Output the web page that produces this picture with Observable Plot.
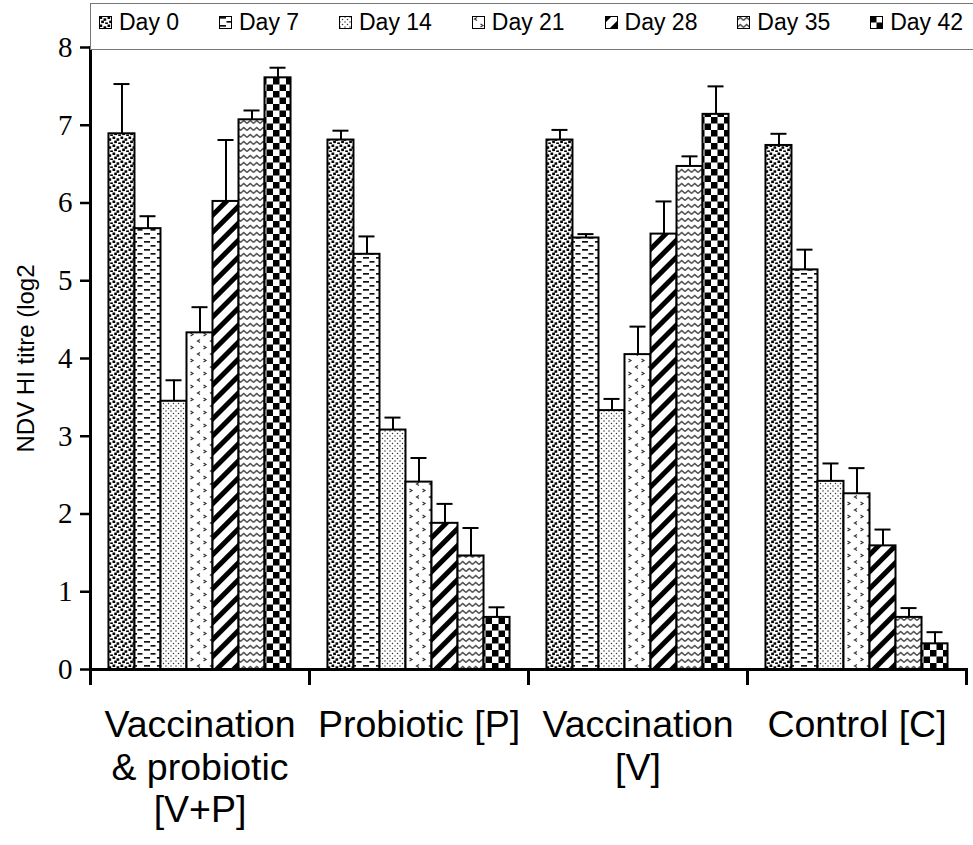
<!DOCTYPE html>
<html><head><meta charset="utf-8">
<script src="https://cdn.jsdelivr.net/npm/d3@7"></script>
<script src="https://cdn.jsdelivr.net/npm/@observablehq/plot@0.6"></script>
<style>
body{margin:0;background:#fff;overflow:hidden;}
#wrap{position:relative;width:973px;height:845px;overflow:hidden;}
#legend{position:absolute;left:90px;top:3px;width:900px;height:47px;border:1px solid #777;background:#fff;display:flex;align-items:flex-start;justify-content:space-between;font-family:"Liberation Sans",Arial,sans-serif;font-size:23px;color:#000;box-sizing:border-box;padding:5px 26px 0 8px;}
.item{display:flex;align-items:center;gap:7px;white-space:nowrap;}
.item svg{display:block;}
</style>
</head><body>
<svg width="0" height="0" style="position:absolute">
<defs>
<pattern id="p0" patternUnits="userSpaceOnUse" width="8" height="8"><rect width="8" height="8" fill="#fff"/><g fill="#000"><rect x="0.5" y="0.5" width="2.7" height="2.5"/><rect x="4.5" y="2.3" width="2.7" height="2.5"/><rect x="2.2" y="4.6" width="2.7" height="2.5"/><rect x="6.2" y="6.4" width="1.8" height="1.6"/><rect x="0" y="6.4" width="0.9" height="1.6"/></g></pattern>
<pattern id="p7" patternUnits="userSpaceOnUse" width="13" height="8"><rect width="13" height="8" fill="#fff"/><g fill="#111"><rect x="1" y="1" width="6" height="1.7"/><rect x="7.5" y="5" width="5" height="1.7"/></g></pattern>
<pattern id="p14" patternUnits="userSpaceOnUse" width="5" height="5"><rect width="5" height="5" fill="#fff"/><g fill="#333"><circle cx="1" cy="1" r="0.75"/><circle cx="3.5" cy="3.5" r="0.75"/></g></pattern>
<pattern id="p21" patternUnits="userSpaceOnUse" width="13" height="13"><rect width="13" height="13" fill="#fff"/><g stroke="#333" stroke-width="1.2" fill="none"><path d="M5 1.5 L2.5 3 L5 4.5"/><path d="M8.5 8 L11 9.5 L8.5 11"/></g></pattern>
<pattern id="p28" patternUnits="userSpaceOnUse" width="12" height="12" patternTransform="rotate(45)"><rect width="12" height="12" fill="#fff"/><rect width="5" height="12" fill="#000"/></pattern>
<pattern id="p35" patternUnits="userSpaceOnUse" width="6.5" height="7"><rect width="6.5" height="7" fill="#fff"/><path d="M0 4.5 L3.25 1.5 L6.5 4.5" stroke="#444" stroke-width="1.3" fill="none"/></pattern>
<pattern id="p42" patternUnits="userSpaceOnUse" width="13" height="13"><rect width="13" height="13" fill="#fff"/><g fill="#000"><rect width="6.5" height="6.5"/><rect x="6.5" y="6.5" width="6.5" height="6.5"/></g></pattern>
</defs>
</svg>
<div id="wrap"><div id="chart"></div><div id="legend"></div></div>
<script>
const groups = ["Vaccination\n& probiotic\n[V+P]", "Probiotic [P]", "Vaccination\n[V]", "Control [C]"];
const days = ["Day 0", "Day 7", "Day 14", "Day 21", "Day 28", "Day 35", "Day 42"];
const meanVP = [6.89, 5.67, 3.45, 4.33, 6.02, 7.07, 7.61];
const sdVP   = [0.64, 0.16, 0.27, 0.33, 0.79, 0.12, 0.13];
const meanP  = [6.81, 5.34, 3.08, 2.41, 1.88, 1.46, 0.67];
const sdP    = [0.12, 0.23, 0.16, 0.31, 0.25, 0.36, 0.13];
const meanV  = [6.81, 5.55, 3.33, 4.05, 5.60, 6.47, 7.14];
const sdV    = [0.13, 0.05, 0.15, 0.36, 0.42, 0.13, 0.36];
const meanC  = [6.74, 5.14, 2.42, 2.26, 1.59, 0.67, 0.33];
const sdC    = [0.15, 0.26, 0.23, 0.33, 0.21, 0.12, 0.15];
const yTicks = [0, 1, 2, 3, 4, 5, 6, 7, 8];
const yLabel = "NDV HI titre (log2";
const patternIds = ["p0", "p7", "p14", "p21", "p28", "p35", "p42"];

const means = [meanVP, meanP, meanV, meanC];
const sds = [sdVP, sdP, sdV, sdC];
const data = groups.flatMap((g, gi) => days.map((d, di) => ({group: g, day: d, value: means[gi][di], sd: sds[gi][di]})));

const chart = Plot.plot({
  width: 973, height: 845,
  marginLeft: 90, marginRight: 7, marginTop: 47, marginBottom: 176,
  style: {background: "white", color: "black", overflow: "visible"},
  fx: {domain: groups, padding: 0, label: null},
  x: {domain: days, paddingInner: 0, paddingOuter: 0.71, round: false, axis: null},
  y: {domain: [0, 8]},
  color: {domain: days, range: patternIds.map(id => `url(#${id})`)},
  marks: [
    Plot.ruleX(data, {fx: "group", x: "day", y1: "value", y2: d => d.value + d.sd, stroke: "black", strokeWidth: 2}),
    Plot.tickY(data, {fx: "group", x: "day", y: d => d.value + d.sd, stroke: "black", strokeWidth: 2, insetLeft: 5, insetRight: 5}),
    Plot.barY(data, {fx: "group", x: "day", y: "value", fill: "day", stroke: "black", strokeWidth: 2}),
    Plot.ruleY([0], {stroke: "black", strokeWidth: 3}),
    Plot.frame({anchor: "left", facet: "super", insetBottom: -14, stroke: "black", strokeWidth: 3}),
    Plot.frame({anchor: "left", insetTop: 622, insetBottom: -14, stroke: "black", strokeWidth: 3}),
    Plot.frame({anchor: "right", facet: "super", insetTop: 622, insetBottom: -14, stroke: "black", strokeWidth: 3}),
    Plot.axisY({ticks: yTicks, tickSize: 10, tickPadding: 8, fontSize: 29, fontFamily: "Liberation Serif", strokeWidth: 2.5, label: null}),
    Plot.axisY({ticks: [], tickSize: 0, label: yLabel, labelAnchor: "center", labelOffset: 74, labelArrow: "none", fontSize: 24, fontFamily: "Liberation Sans"}),
    Plot.axisFx({anchor: "bottom", tickSize: 0, tickPadding: 37, fontSize: 37.5, fontFamily: "Liberation Sans", lineHeight: 1.14, label: null})
  ]
});
document.getElementById("chart").appendChild(chart);

const legend = document.getElementById("legend");
days.forEach((d, i) => {
  const item = document.createElement("div");
  item.className = "item";
  item.innerHTML = `<svg width="13" height="13"><rect x="0.5" y="0.5" width="12" height="12" fill="url(#${patternIds[i]})" stroke="#000"/></svg><span>${d}</span>`;
  legend.appendChild(item);
});
</script>
</body></html>
